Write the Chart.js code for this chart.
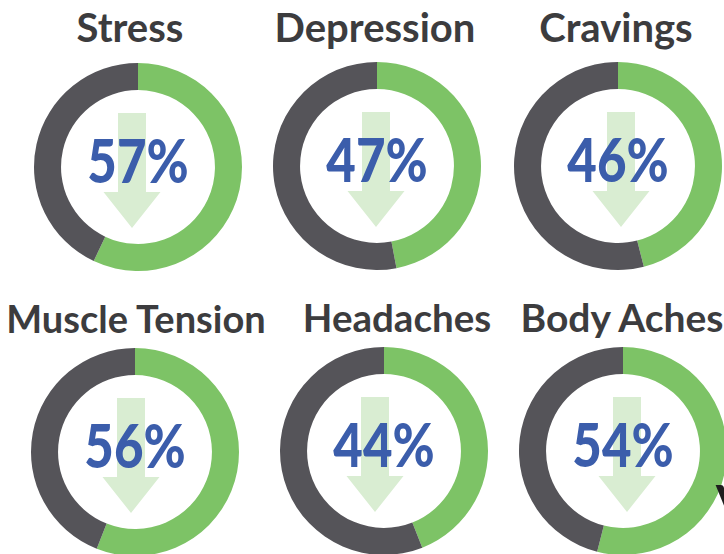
<!DOCTYPE html>
<html>
<head>
<meta charset="utf-8">
<script src="https://cdn.jsdelivr.net/npm/chart.js@4.4.1/dist/chart.umd.min.js"></script>
<style>
  html, body { margin: 0; padding: 0; background: #ffffff; width: 724px; height: 554px; overflow: hidden; position: relative; }
  .title { position: absolute; width: 400px; text-align: center; font-family: Lato, "Open Sans", sans-serif; font-weight: 700; font-size: 40px; line-height: 40px; color: #3c3c3e; white-space: nowrap; }
  canvas.ring { position: absolute; }
  .cut { position: absolute; font-family: Lato, sans-serif; font-weight: 900; font-size: 46px; line-height: 46px; color: #1e1e1e; }
</style>
</head>
<body>
<script>
// ---- data ----
const categories = ['Stress', 'Depression', 'Cravings', 'Muscle Tension', 'Headaches', 'Body Aches'];
const reductionPct = [57, 47, 46, 56, 44, 54];
const remainingPct = [43, 53, 54, 44, 56, 46];
const centerLabels = ['57%', '47%', '46%', '56%', '44%', '54%'];

// ---- layout (positions only) ----
const ringCenters = [[138, 167], [377, 166], [618, 166], [135, 452], [384, 451], [623, 451]];
const titleCenters = [[130, 43], [375, 43], [616, 43], [136, 333], [397, 333], [622, 333]];
const titleSizes = [40, 40, 40, 38, 38.5, 39];
const arrowOffsets = [-6, -1, 3, -4, -9, 4];
const RADIUS = 104;

const COL_DARK = '#555459';
const COL_GREEN = '#7dc366';
const COL_BLUE = '#3b5dab';
const COL_ARROW = '#d9edd2';

const centerPlugin = {
  id: 'centerDecor',
  afterDatasetsDraw(chart, args, opts) {
    const arc = chart.getDatasetMeta(0).data[0];
    if (!arc) return;
    const cx = arc.x, cy = arc.y;
    const ctx = chart.ctx;
    ctx.save();
    // arrow
    const ax = cx + opts.arrowDx;
    ctx.fillStyle = COL_ARROW;
    ctx.beginPath();
    ctx.moveTo(ax - 14, cy - 54);
    ctx.lineTo(ax + 14, cy - 54);
    ctx.lineTo(ax + 14, cy + 25);
    ctx.lineTo(ax + 28.5, cy + 25);
    ctx.lineTo(ax, cy + 61);
    ctx.lineTo(ax - 28.5, cy + 25);
    ctx.lineTo(ax - 14, cy + 25);
    ctx.closePath();
    ctx.fill();
    // label
    ctx.translate(cx, cy + 16);
    ctx.scale(0.85, 1);
    ctx.fillStyle = COL_BLUE;
    ctx.font = '900 60px Lato, "Open Sans", sans-serif';
    ctx.textAlign = 'center';
    ctx.textBaseline = 'alphabetic';
    ctx.fillText(opts.label, 0, 0);
    ctx.restore();
  }
};

categories.forEach((name, i) => {
  const t = document.createElement('div');
  t.className = 'title';
  t.textContent = name;
  t.style.fontSize = titleSizes[i] + 'px';
  t.style.lineHeight = titleSizes[i] + 'px';
  t.style.left = (titleCenters[i][0] - 200) + 'px';
  t.style.top = (titleCenters[i][1] - titleSizes[i] * 0.9) + 'px';
  document.body.appendChild(t);

  const size = RADIUS * 2 + 2;
  const c = document.createElement('canvas');
  c.className = 'ring';
  c.width = size; c.height = size;
  c.style.width = size + 'px'; c.style.height = size + 'px';
  c.style.left = (ringCenters[i][0] - size / 2) + 'px';
  c.style.top = (ringCenters[i][1] - size / 2) + 'px';
  document.body.appendChild(c);

  new Chart(c, {
    type: 'doughnut',
    data: {
      labels: ['Reduced', 'Remaining'],
      datasets: [{
        data: [reductionPct[i], remainingPct[i]],
        backgroundColor: [COL_GREEN, COL_DARK],
        borderWidth: 0,
        hoverOffset: 0
      }]
    },
    options: {
      responsive: false,
      animation: false,
      cutout: '74%',
      layout: { padding: 1 },
      events: [],
      plugins: {
        legend: { display: false },
        tooltip: { enabled: false },
        title: { display: false },
        centerDecor: { label: centerLabels[i], arrowDx: arrowOffsets[i] }
      }
    },
    plugins: [centerPlugin]
  });
});

const v = document.createElement('div');
v.className = 'cut';
v.textContent = 'V';
v.style.left = '716px';
v.style.top = '478px';
document.body.appendChild(v);
</script>
</body>
</html>
